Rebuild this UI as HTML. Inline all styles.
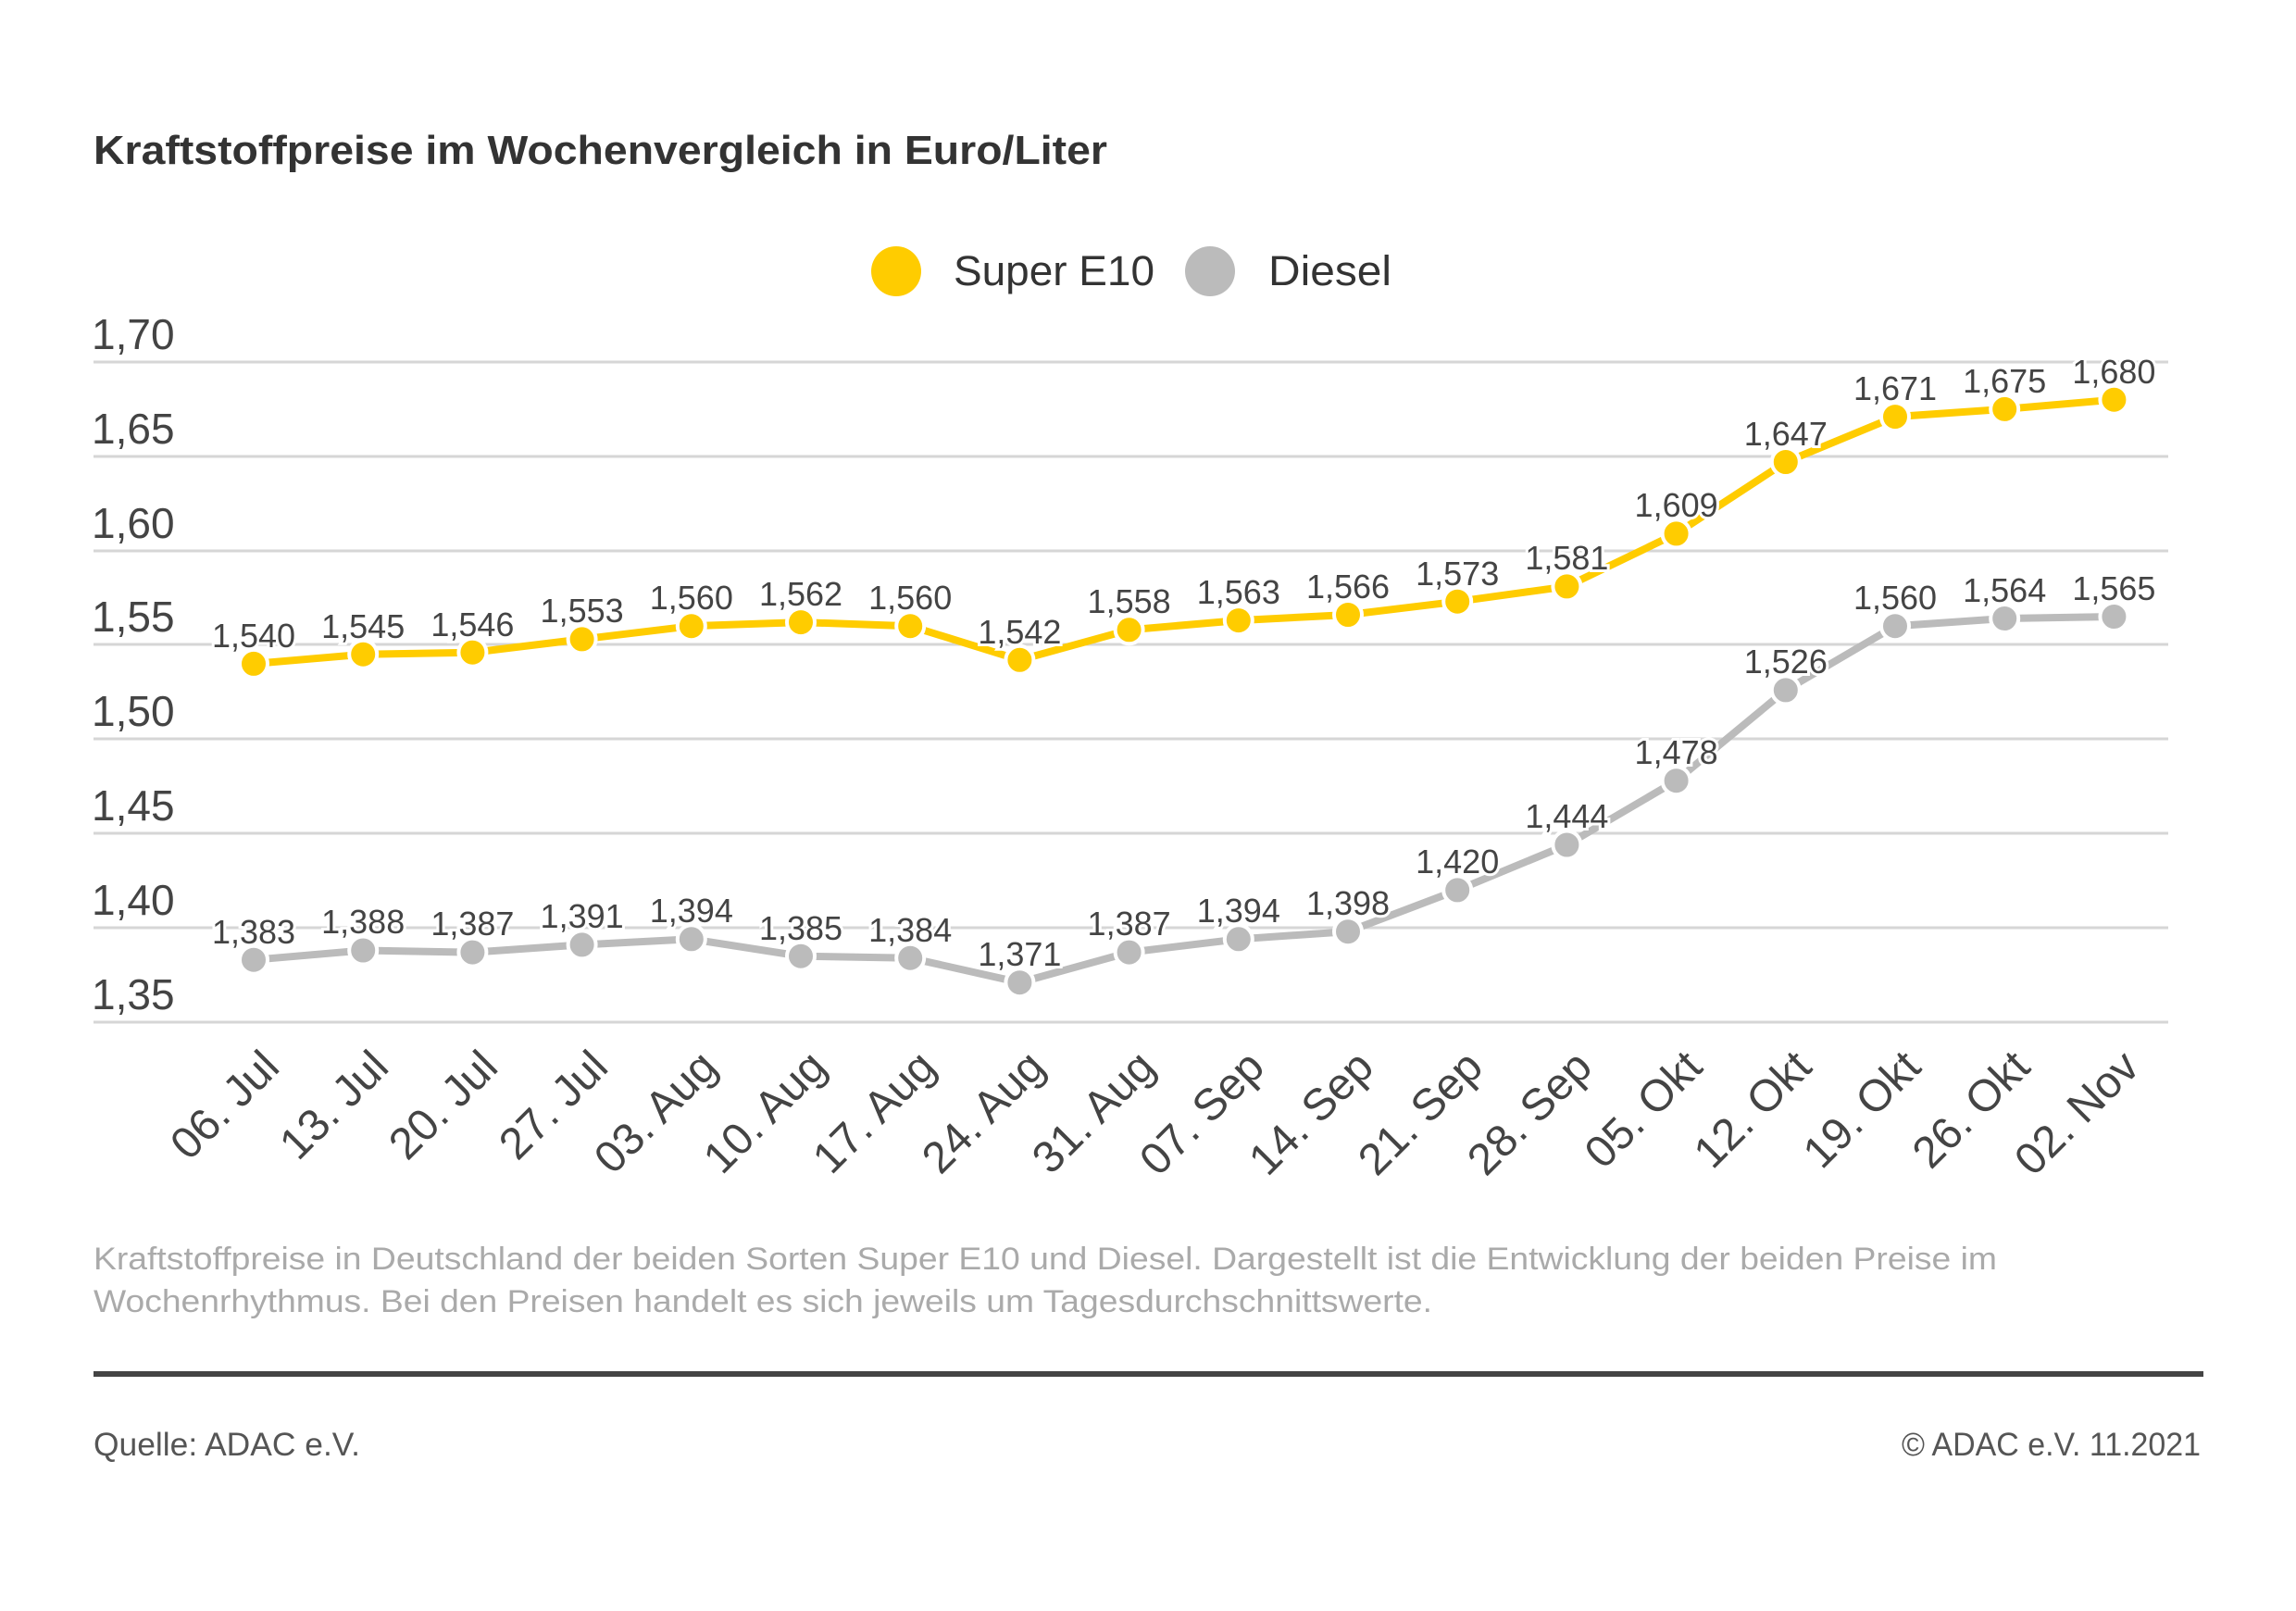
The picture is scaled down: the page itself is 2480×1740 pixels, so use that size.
<!DOCTYPE html>
<html><head><meta charset="utf-8"><style>
html,body{margin:0;padding:0;background:#fff}
svg{display:block}
text{font-family:"Liberation Sans",sans-serif}
</style></head><body>
<svg width="2480" height="1740" viewBox="0 0 2480 1740" xmlns="http://www.w3.org/2000/svg">
<rect width="2480" height="1740" fill="#fff"/>
<text x="101" y="177" font-size="44" font-weight="bold" fill="#333" textLength="1095" lengthAdjust="spacingAndGlyphs">Kraftstoffpreise im Wochenvergleich in Euro/Liter</text>
<circle cx="968" cy="293" r="27" fill="#fc0"/>
<text x="1030" y="308" font-size="45" fill="#333" textLength="217" lengthAdjust="spacingAndGlyphs">Super E10</text>
<circle cx="1307" cy="293" r="27" fill="#bbb"/>
<text x="1370" y="308" font-size="45" fill="#333" textLength="133" lengthAdjust="spacingAndGlyphs">Diesel</text>
<g stroke="#d6d6d6" stroke-width="3">
<line x1="101" y1="391" x2="2342" y2="391"/><line x1="101" y1="493" x2="2342" y2="493"/>
<line x1="101" y1="595" x2="2342" y2="595"/><line x1="101" y1="696" x2="2342" y2="696"/>
<line x1="101" y1="798" x2="2342" y2="798"/><line x1="101" y1="900" x2="2342" y2="900"/>
<line x1="101" y1="1002" x2="2342" y2="1002"/><line x1="101" y1="1104" x2="2342" y2="1104"/>
</g>
<g font-size="46" fill="#444">
<text x="99" y="377">1,70</text><text x="99" y="479">1,65</text><text x="99" y="581">1,60</text>
<text x="99" y="682">1,55</text><text x="99" y="784">1,50</text><text x="99" y="886">1,45</text>
<text x="99" y="988">1,40</text><text x="99" y="1090">1,35</text>
</g>
<polyline fill="none" stroke="#fc0" stroke-width="8" points="274,716.9 392.2,706.7 510.4,704.7 628.6,690.4 746.8,676.2 865,672.1 983.2,676.2 1101.4,712.8 1219.6,680.3 1337.8,670.1 1456,664 1574.2,649.7 1692.4,633.4 1810.6,576.4 1928.8,499 2047,450.1 2165.2,441.9 2283.4,431.7"/>
<polyline fill="none" stroke="#bbb" stroke-width="8" points="274,1036.7 392.2,1026.5 510.4,1028.6 628.6,1020.4 746.8,1014.3 865,1032.7 983.2,1034.7 1101.4,1061.2 1219.6,1028.6 1337.8,1014.3 1456,1006.2 1574.2,961.4 1692.4,912.5 1810.6,843.2 1928.8,745.4 2047,676.2 2165.2,668 2283.4,666"/>
<g fill="#fc0" stroke="#fff" stroke-width="4">
<circle cx="274" cy="716.9" r="15"/><circle cx="392.2" cy="706.7" r="15"/><circle cx="510.4" cy="704.7" r="15"/><circle cx="628.6" cy="690.4" r="15"/><circle cx="746.8" cy="676.2" r="15"/><circle cx="865" cy="672.1" r="15"/><circle cx="983.2" cy="676.2" r="15"/><circle cx="1101.4" cy="712.8" r="15"/><circle cx="1219.6" cy="680.3" r="15"/><circle cx="1337.8" cy="670.1" r="15"/><circle cx="1456" cy="664" r="15"/><circle cx="1574.2" cy="649.7" r="15"/><circle cx="1692.4" cy="633.4" r="15"/><circle cx="1810.6" cy="576.4" r="15"/><circle cx="1928.8" cy="499" r="15"/><circle cx="2047" cy="450.1" r="15"/><circle cx="2165.2" cy="441.9" r="15"/><circle cx="2283.4" cy="431.7" r="15"/>
</g>
<g fill="#bbb" stroke="#fff" stroke-width="4">
<circle cx="274" cy="1036.7" r="15"/><circle cx="392.2" cy="1026.5" r="15"/><circle cx="510.4" cy="1028.6" r="15"/><circle cx="628.6" cy="1020.4" r="15"/><circle cx="746.8" cy="1014.3" r="15"/><circle cx="865" cy="1032.7" r="15"/><circle cx="983.2" cy="1034.7" r="15"/><circle cx="1101.4" cy="1061.2" r="15"/><circle cx="1219.6" cy="1028.6" r="15"/><circle cx="1337.8" cy="1014.3" r="15"/><circle cx="1456" cy="1006.2" r="15"/><circle cx="1574.2" cy="961.4" r="15"/><circle cx="1692.4" cy="912.5" r="15"/><circle cx="1810.6" cy="843.2" r="15"/><circle cx="1928.8" cy="745.4" r="15"/><circle cx="2047" cy="676.2" r="15"/><circle cx="2165.2" cy="668" r="15"/><circle cx="2283.4" cy="666" r="15"/>
</g>
<g font-size="36" fill="#444" text-anchor="middle" stroke="#fff" stroke-width="6" paint-order="stroke">
<text x="274" y="699">1,540</text><text x="392.2" y="689">1,545</text><text x="510.4" y="687">1,546</text><text x="628.6" y="672">1,553</text><text x="746.8" y="658">1,560</text><text x="865" y="654">1,562</text><text x="983.2" y="658">1,560</text><text x="1101.4" y="695">1,542</text><text x="1219.6" y="662">1,558</text><text x="1337.8" y="652">1,563</text><text x="1456" y="646">1,566</text><text x="1574.2" y="632">1,573</text><text x="1692.4" y="615">1,581</text><text x="1810.6" y="558">1,609</text><text x="1928.8" y="481">1,647</text><text x="2047" y="432">1,671</text><text x="2165.2" y="424">1,675</text><text x="2283.4" y="414">1,680</text>
<text x="274" y="1019">1,383</text><text x="392.2" y="1008">1,388</text><text x="510.4" y="1010">1,387</text><text x="628.6" y="1002">1,391</text><text x="746.8" y="996">1,394</text><text x="865" y="1015">1,385</text><text x="983.2" y="1017">1,384</text><text x="1101.4" y="1043">1,371</text><text x="1219.6" y="1010">1,387</text><text x="1337.8" y="996">1,394</text><text x="1456" y="988">1,398</text><text x="1574.2" y="943">1,420</text><text x="1692.4" y="894">1,444</text><text x="1810.6" y="825">1,478</text><text x="1928.8" y="727">1,526</text><text x="2047" y="658">1,560</text><text x="2165.2" y="650">1,564</text><text x="2283.4" y="648">1,565</text>
</g>
<g font-size="48" fill="#444" text-anchor="end">
<text transform="translate(304,1155) rotate(-45)">06. Jul</text>
<text transform="translate(422,1155) rotate(-45)">13. Jul</text>
<text transform="translate(540,1155) rotate(-45)">20. Jul</text>
<text transform="translate(659,1155) rotate(-45)">27. Jul</text>
<text transform="translate(777,1155) rotate(-45)">03. Aug</text>
<text transform="translate(895,1155) rotate(-45)">10. Aug</text>
<text transform="translate(1013,1155) rotate(-45)">17. Aug</text>
<text transform="translate(1131,1155) rotate(-45)">24. Aug</text>
<text transform="translate(1250,1155) rotate(-45)">31. Aug</text>
<text transform="translate(1368,1155) rotate(-45)">07. Sep</text>
<text transform="translate(1486,1155) rotate(-45)">14. Sep</text>
<text transform="translate(1604,1155) rotate(-45)">21. Sep</text>
<text transform="translate(1722,1155) rotate(-45)">28. Sep</text>
<text transform="translate(1841,1155) rotate(-45)">05. Okt</text>
<text transform="translate(1959,1155) rotate(-45)">12. Okt</text>
<text transform="translate(2077,1155) rotate(-45)">19. Okt</text>
<text transform="translate(2195,1155) rotate(-45)">26. Okt</text>
<text transform="translate(2313,1155) rotate(-45)">02. Nov</text>
</g>
<g font-size="34" fill="#aaa">
<text x="101" y="1371" textLength="2056" lengthAdjust="spacingAndGlyphs">Kraftstoffpreise in Deutschland der beiden Sorten Super E10 und Diesel. Dargestellt ist die Entwicklung der beiden Preise im</text>
<text x="101" y="1417" textLength="1446" lengthAdjust="spacingAndGlyphs">Wochenrhythmus. Bei den Preisen handelt es sich jeweils um Tagesdurchschnittswerte.</text>
</g>
<rect x="101" y="1481" width="2279" height="6" fill="#444"/>
<text x="101" y="1572" font-size="35" fill="#555" textLength="288" lengthAdjust="spacingAndGlyphs">Quelle: ADAC e.V.</text>
<text x="2377" y="1572" font-size="35" fill="#555" text-anchor="end" textLength="323" lengthAdjust="spacingAndGlyphs">© ADAC e.V. 11.2021</text>
</svg>
</body></html>
